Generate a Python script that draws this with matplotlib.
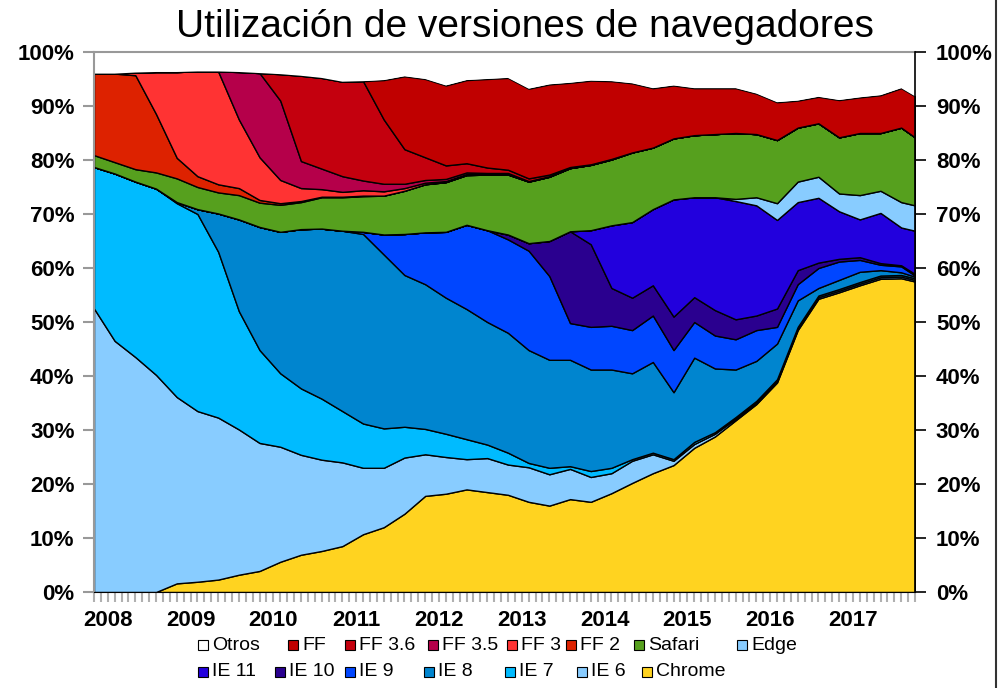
import matplotlib.pyplot as plt
from matplotlib.patches import Rectangle
from matplotlib.lines import Line2D
from matplotlib.ticker import FixedLocator, MultipleLocator

plt.rcParams['font.family'] = ['Liberation Sans', 'DejaVu Sans']

# months since the first sample, read roughly every quarter
months = [0, 3, 6, 9, 12, 15, 18, 21, 24, 27, 30, 33, 36, 39, 42, 45, 48, 51, 54, 57,
          60, 63, 66, 69, 72, 75, 78, 81, 84, 87, 90, 93, 96, 99, 102, 105, 108, 111,
          114, 117, 119]
year_pos = [2, 14, 26, 38, 50, 62, 74, 86, 98, 110]
year_labels = ['2008', '2009', '2010', '2011', '2012', '2013', '2014', '2015', '2016', '2017']

# shares in percent, bottom of the stack first
chrome = [0, 0, 0, 0, 1.6, 1.9, 2.3, 3.2, 3.9, 5.6, 6.9, 7.6, 8.5, 10.7, 12.0, 14.5, 17.8,
          18.2, 19.0, 18.5, 18.0, 16.7, 16.0, 17.2, 16.7, 18.3, 20.2, 22.0, 23.5, 26.7,
          28.8, 31.8, 34.8, 38.8, 48.5, 54.3, 55.5, 56.8, 58.0, 58.1, 57.5]
ie6 = [52.5, 46.5, 43.5, 40.2, 34.5, 31.6, 30.0, 26.9, 23.7, 21.3, 18.5, 16.9, 15.5, 12.3,
       11.0, 10.4, 7.7, 6.8, 5.6, 6.3, 5.6, 6.4, 5.8, 5.6, 4.6, 3.7, 4.1, 3.5, 0.8, 0.7,
       0.5, 0.3, 0.3, 0.3, 0.3, 0.3, 0.3, 0.3, 0.3, 0.3, 0.3]
ie7 = [26.2, 31.0, 32.5, 34.5, 35.9, 36.5, 30.7, 21.9, 17.2, 13.6, 12.3, 11.3, 9.5, 8.2,
       7.3, 5.7, 4.7, 4.3, 3.7, 2.5, 2.2, 0.8, 1.2, 0.5, 1.1, 1.0, 0.3, 0.3, 0.3, 0.4,
       0.3, 0.3, 0.3, 0.3, 0.3, 0.3, 0.3, 0.3, 0.3, 0.3, 0.3]
ie8 = [0, 0, 0, 0, 0.2, 0.9, 7.1, 17.0, 22.8, 26.2, 29.5, 31.5, 33.4, 35.1, 32.2, 28.1,
       26.8, 25.2, 24.1, 22.7, 22.2, 20.9, 20.0, 19.7, 18.8, 18.2, 15.9, 16.8, 12.4, 15.6,
       11.8, 8.8, 7.4, 6.6, 4.9, 1.4, 1.7, 1.9, 1.0, 0.5, 0.3]
ie9 = [0, 0, 0, 0, 0, 0, 0, 0, 0, 0, 0, 0, 0, 0.4, 3.7, 7.6, 9.6, 12.2, 15.6, 17.0, 17.3,
       18.4, 15.5, 6.8, 7.9, 8.1, 8.0, 8.6, 7.8, 6.6, 6.1, 5.6, 5.7, 3.1, 3.0, 3.7, 3.4,
       2.2, 1.0, 1.1, 0.2]
ie10 = [0, 0, 0, 0, 0, 0, 0, 0, 0, 0, 0, 0, 0, 0, 0, 0, 0, 0, 0, 0, 0.9, 1.4, 6.5, 17.0,
        15.3, 7.0, 6.0, 5.6, 6.2, 4.6, 4.7, 3.7, 2.7, 3.4, 2.6, 1.0, 0.5, 0.5, 0.3, 0.2, 0.3]
ie11 = [0, 0, 0, 0, 0, 0, 0, 0, 0, 0, 0, 0, 0, 0, 0, 0, 0, 0, 0, 0, 0, 0, 0, 0, 2.6, 11.6,
        14.0, 14.1, 21.7, 18.5, 20.9, 21.9, 20.4, 16.4, 12.6, 12.0, 8.8, 7.0, 9.3, 7.0, 8.0]
edge = [0, 0, 0, 0, 0, 0, 0, 0, 0, 0, 0, 0, 0, 0, 0, 0, 0, 0, 0, 0, 0, 0, 0, 0, 0, 0, 0,
        0, 0, 0, 0, 0.4, 1.5, 3.1, 3.8, 3.9, 3.3, 4.5, 4.1, 4.7, 4.7]
safari = [2.2, 2.1, 2.3, 3.0, 4.4, 4.1, 3.9, 4.5, 4.5, 5.0, 5.0, 5.8, 6.2, 6.6, 7.2, 8.0,
          8.9, 9.2, 9.2, 10.3, 11.1, 11.4, 11.9, 11.7, 12.1, 12.2, 12.9, 11.4, 11.3, 11.5,
          11.7, 12.2, 11.7, 11.7, 10.0, 9.9, 10.4, 11.5, 10.7, 13.8, 12.6]
ff2 = [15.1, 16.4, 17.4, 10.8, 3.8, 2.0, 1.5, 1.3, 0.5, 0.3, 0.2, 0.1, 0.1, 0.1, 0, 0, 0,
       0, 0, 0, 0, 0, 0, 0, 0, 0, 0, 0, 0, 0, 0, 0, 0, 0, 0, 0, 0, 0, 0, 0, 0]
ff3 = [0, 0, 0.5, 7.8, 15.9, 19.4, 20.9, 12.7, 7.9, 4.3, 2.4, 1.4, 0.9, 1.0, 0.8, 0.5, 0.3,
       0.2, 0.2, 0.1, 0.1, 0, 0, 0, 0, 0, 0, 0, 0, 0, 0, 0, 0, 0, 0, 0, 0, 0, 0, 0, 0]
ff35 = [0, 0, 0, 0, 0, 0, 0, 8.8, 15.6, 14.7, 5.0, 3.8, 2.9, 1.8, 1.4, 0.8, 0.5, 0.4, 0.3,
        0.2, 0.2, 0.1, 0.1, 0, 0, 0, 0, 0, 0, 0, 0, 0, 0, 0, 0, 0, 0, 0, 0, 0, 0]
ff36 = [0, 0, 0, 0, 0, 0, 0, 0, 0, 4.9, 15.8, 16.8, 17.5, 18.4, 11.9, 6.4, 4.2, 2.5, 1.7,
        1.0, 0.6, 0.5, 0.3, 0.2, 0.1, 0.1, 0, 0, 0, 0, 0, 0, 0, 0, 0, 0, 0, 0, 0, 0, 0]
ff = [0, 0, 0, 0, 0, 0, 0, 0, 0, 0, 0, 0, 0, 0, 7.3, 13.5, 14.5, 14.8, 15.4, 16.4, 17.0,
      16.6, 16.7, 15.6, 15.5, 14.4, 12.8, 11.0, 9.8, 8.7, 8.5, 8.3, 7.5, 7.0, 5.0, 4.9, 6.9,
      6.6, 7.0, 7.3, 7.6]
otros = [4.0, 4.0, 3.8, 3.7, 3.7, 3.6, 3.6, 3.7, 3.9, 4.1, 4.4, 4.8, 5.5, 5.4, 5.2, 4.5,
         5.0, 6.2, 5.2, 5.0, 4.8, 6.8, 6.0, 5.7, 5.3, 5.4, 5.8, 6.7, 6.2, 6.7, 6.7, 6.7, 7.7,
         9.3, 9.0, 8.3, 8.9, 8.4, 8.0, 6.7, 8.2]

series = [chrome, ie6, ie7, ie8, ie9, ie10, ie11, edge, safari, ff2, ff3, ff35, ff36, ff, otros]
names = ['Chrome', 'IE 6', 'IE 7', 'IE 8', 'IE 9', 'IE 10', 'IE 11', 'Edge', 'Safari',
         'FF 2', 'FF 3', 'FF 3.5', 'FF 3.6', 'FF', 'Otros']
colors = {'Chrome': '#FFD320', 'IE 6': '#88CCFF', 'IE 7': '#00BBFF', 'IE 8': '#0085CF',
          'IE 9': '#0046FF', 'IE 10': '#2A008F', 'IE 11': '#2200DD', 'Edge': '#88CCFF',
          'Safari': '#56A01E', 'FF 2': '#DD2200', 'FF 3': '#FF3333', 'FF 3.5': '#B5004A',
          'FF 3.6': '#C4000E', 'FF': '#C00000', 'Otros': '#FFFFFF'}

W, H = 1002, 688
fig = plt.figure(figsize=(W / 100, H / 100), dpi=100)
ax = fig.add_axes([94 / W, 1 - 592 / H, 821 / W, 540 / H])

polys = ax.stackplot(months, *series, colors=[colors[n] for n in names],
                     edgecolor='black', linewidth=1.0)
polys[-1].set_edgecolor('none')

ax.set_xlim(0, 119)
ax.set_ylim(0, 100)

# x axis: a grey tick every month, year labels without ticks
ax.xaxis.remove_overlapping_locs = False
ax.xaxis.set_major_locator(FixedLocator(year_pos))
ax.set_xticklabels(year_labels, fontsize=16, fontweight='bold')
ax.xaxis.set_minor_locator(MultipleLocator(1))
ax.tick_params(axis='x', which='major', length=0, pad=13)
ax.tick_params(axis='x', which='minor', length=7, width=1.5, color='#b0b0b0')

yt = list(range(0, 101, 10))
ax.set_yticks(yt)
ax.set_yticklabels([f'{v}%' for v in yt], fontsize=16, fontweight='bold')
ax.tick_params(axis='y', length=8, width=1.5, color='#999999', pad=6)

for s in ['left', 'top']:
    ax.spines[s].set_color('#999999')
    ax.spines[s].set_linewidth(1.5)
ax.spines['bottom'].set_color('black')
ax.spines['right'].set_visible(False)

ax2 = ax.twinx()
ax2.set_ylim(0, 100)
ax2.set_yticks(yt)
ax2.set_yticklabels([f'{v}%' for v in yt], fontsize=16, fontweight='bold')
ax2.tick_params(axis='y', length=8, width=1.2, color='black', pad=7)
for s in ['left', 'top', 'bottom']:
    ax2.spines[s].set_visible(False)
ax2.spines['right'].set_color('black')
ax2.spines['right'].set_linewidth(1.2)

fig.text(525 / W, 1 - 27 / H, 'Utilización de versiones de navegadores',
         fontsize=28, ha='center', va='center')

# legend laid out like the original, two rows
row1 = [('Otros', 198), ('FF', 288), ('FF 3.6', 345), ('FF 3.5', 428), ('FF 3', 507),
        ('FF 2', 566), ('Safari', 634), ('Edge', 737)]
row2 = [('IE 11', 198), ('IE 10', 275), ('IE 9', 345), ('IE 8', 424), ('IE 7', 505),
        ('IE 6', 577), ('Chrome', 642)]
for row, yc in [(row1, 645), (row2, 672)]:
    for name, xl in row:
        fig.add_artist(Rectangle((xl / W, (H - yc - 5) / H), 10 / W, 10 / H,
                                 facecolor=colors[name], edgecolor='black', linewidth=0.8,
                                 transform=fig.transFigure))
        fig.text((xl + 14) / W, 1 - yc / H, name, fontsize=14, ha='left', va='center')

fig.add_artist(Line2D([995.5 / W, 995.5 / W], [0, 1], color='#333333', linewidth=1.5,
                      transform=fig.transFigure))

fig.savefig('out.png', dpi=100)
